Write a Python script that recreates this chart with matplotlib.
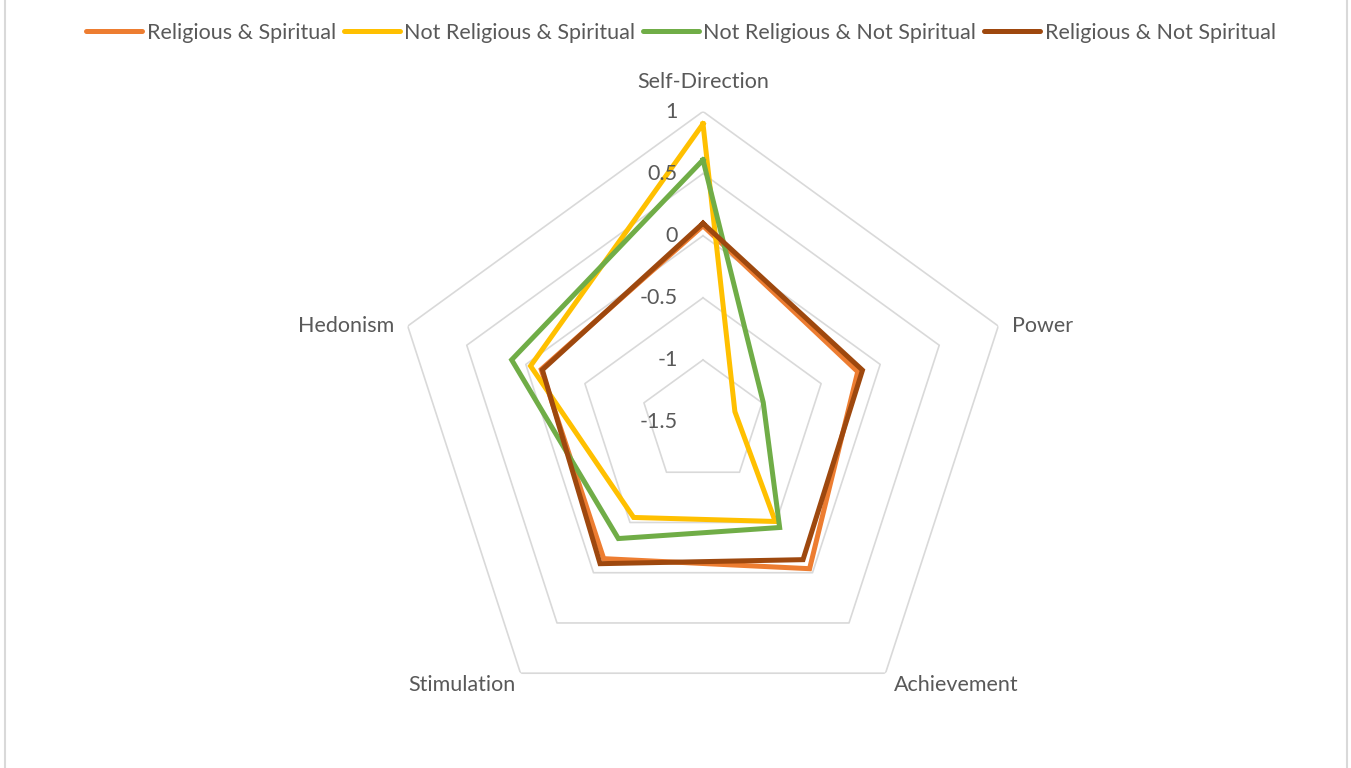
import numpy as np
import matplotlib
matplotlib.use("Agg")
import matplotlib.pyplot as plt
from matplotlib.lines import Line2D

categories = ["Self-Direction", "Power", "Achievement", "Stimulation", "Hedonism"]
series_names = ["Religious & Spiritual", "Not Religious & Spiritual",
                "Not Religious & Not Spiritual", "Religious & Not Spiritual"]
rel_spir = [0.08, -0.19, -0.04, -0.14, -0.13]
notrel_spir = [0.90, -1.23, -0.51, -0.55, -0.04]
notrel_notspir = [0.61, -0.99, -0.45, -0.34, 0.12]
rel_notspir = [0.10, -0.15, -0.13, -0.09, -0.14]
series = [rel_spir, notrel_spir, notrel_notspir, rel_notspir]
colors = ["#ED7D31", "#FFC000", "#70AD47", "#9E480E"]
grid_levels = [-1, -0.5, 0, 0.5, 1]
tick_labels = ["-1.5", "-1", "-0.5", "0", "0.5", "1"]
tick_values = [-1.5, -1, -0.5, 0, 0.5, 1]

plt.rcParams['font.family'] = ['Lato', 'DejaVu Sans']
text_color = "#595959"
fs = 15.5

W, H = 1351, 768
fig = plt.figure(figsize=(W / 100, H / 100), dpi=100)

# polar axes placed so the centre and outer ring match the reference
cx, cy, R = 703, 422, 310.5
ax = fig.add_axes([(cx - R) / W, (H - cy - R) / H, 2 * R / W, 2 * R / H],
                  projection='polar')
ax.set_theta_zero_location('N')
ax.set_theta_direction(-1)
ax.set_ylim(-1.5, 1)
ax.grid(False)
ax.spines['polar'].set_visible(False)
ax.set_xticks([])
ax.set_yticks([])
ax.patch.set_alpha(0)

angles = np.deg2rad(np.arange(len(categories)) * 360 / len(categories))
closed = np.append(angles, angles[0])

# pentagon gridlines
for lv in grid_levels:
    ax.plot(closed, [lv] * (len(angles) + 1), color="#D9D9D9", lw=1.2, zorder=1)

for vals, col, name in zip(series, colors, series_names):
    ax.plot(closed, vals + [vals[0]], color=col, lw=3.6, label=name,
            solid_joinstyle='miter', zorder=3)

# radial value labels
for v, lab in zip(tick_values, tick_labels):
    ax.annotate(lab, xy=(0, v), xytext=(-25, 0), textcoords='offset pixels',
                ha='right', va='center', fontsize=fs, color=text_color)

# category labels
offsets = [(0, 29, 'center'), (14, 0, 'left'), (8, -12, 'left'),
           (-5, -12, 'right'), (-13, 0, 'right')]
for a, cat, (dx, dy, ha) in zip(angles, categories, offsets):
    ax.annotate(cat, xy=(a, 1), xytext=(dx, dy), textcoords='offset pixels',
                ha=ha, va='center', fontsize=fs, color=text_color)

handles = [Line2D([], [], color=c, lw=3.6, solid_capstyle='round') for c in colors]
fig.legend(handles, series_names, loc='center', ncol=4,
           bbox_to_anchor=(681 / W, 1 - 33 / H), frameon=False,
           fontsize=fs, labelcolor=text_color, handlelength=2.6,
           handletextpad=0.2, columnspacing=0.37)

# chart area border
for x in (5.5, 1346.5):
    fig.add_artist(Line2D([x / W, x / W], [0, 1], color="#D9D9D9", lw=1.5,
                          transform=fig.transFigure))

fig.savefig("out.png", dpi=100, facecolor="white")
